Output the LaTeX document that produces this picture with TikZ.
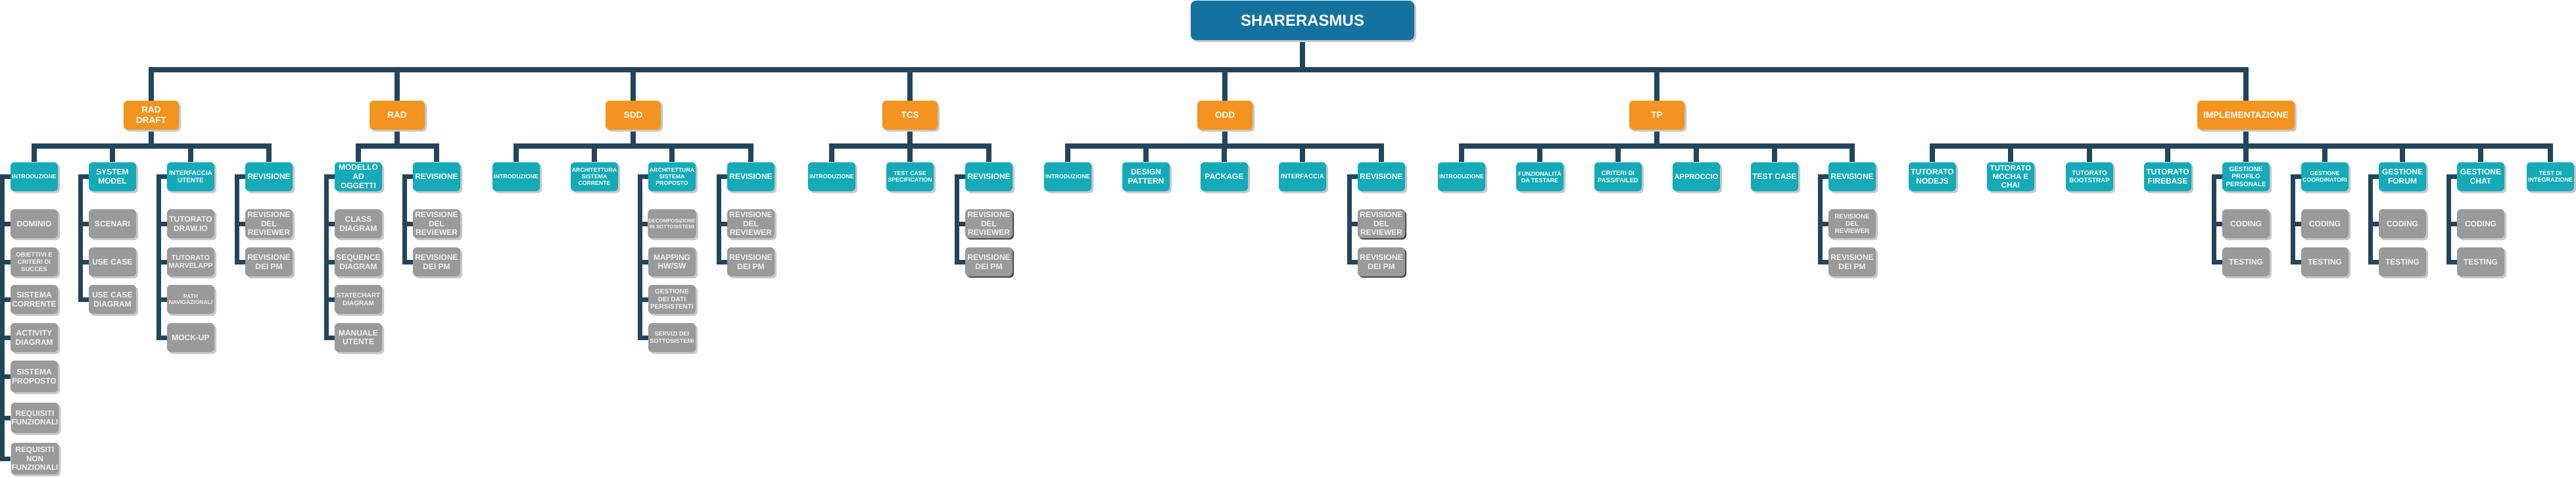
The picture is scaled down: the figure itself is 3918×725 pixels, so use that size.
\documentclass[tikz,border=0pt]{standalone}
\usepackage{fontspec}
\setmainfont{Liberation Sans}
\usetikzlibrary{shadows}
\definecolor{croot}{HTML}{13739E}
\definecolor{corange}{HTML}{F2941F}
\definecolor{cteal}{HTML}{14AAB7}
\definecolor{cgray}{HTML}{9A9A9A}
\definecolor{gtext}{HTML}{F2F2F2}
\definecolor{cnavy}{HTML}{23455C}
\definecolor{shd}{HTML}{C8C8C8}
\newcommand\fsz[1]{\fontsize{#1pt}{\dimexpr#1pt*115/100\relax}\selectfont}
\newcommand\mybrk[2]{\draw[bconn] (#1.west) -- ++(-12,0) |- (#2.west);}
\pgfdeclarelayer{bg}
\pgfsetlayers{bg,main}
\tikzset{
  base/.style={rounded corners=6pt, minimum width=72pt, minimum height=44pt, inner sep=1pt,
    align=center, font=\fsz{12}\bfseries},
  lshadow/.style={drop shadow={shadow xshift=3pt, shadow yshift=-3pt, fill=shd, opacity=1}},
  dshadow/.style={drop shadow={shadow xshift=2pt, shadow yshift=-2pt, fill=black!72, opacity=1}},
  rootbox/.style={base, lshadow, fill=croot, text=white, minimum width=340pt, minimum height=60pt,
    rounded corners=8pt, font=\fsz{24}\bfseries},
  obox/.style={base, lshadow, fill=corange, text=white, minimum width=84pt, font=\fsz{13.5}\bfseries},
  tbox/.style={base, lshadow, fill=cteal, text=white},
  gbox/.style={base, lshadow, fill=cgray, text=gtext},
  dgbox/.style={base, dshadow, fill=cgray, text=gtext},
  fs/.style={font=\fsz{#1}\bfseries},
  conn/.style={draw=cnavy, line width=8pt, line join=miter},
  bconn/.style={draw=cnavy, line width=7pt, line join=miter},
}
\begin{document}
\begin{tikzpicture}[x=1pt,y=-1pt]
\useasboundingbox (0,0) rectangle (3918,725);
\coordinate (bar0) at (0,106);
\coordinate (bar1) at (0,222);
% root
\node[rootbox] (root) at (1981,31) {SHARERASMUS};
% level 1
\node[obox] (o1) at (230,175) {RAD\\DRAFT};
\node[obox] (o2) at (604,175) {RAD};
\node[obox] (o3) at (963,175) {SDD};
\node[obox] (o4) at (1384,175) {TCS};
\node[obox] (o5) at (1863,175) {ODD};
\node[obox] (o6) at (2520,175) {TP};
\node[obox, minimum width=148pt] (o7) at (3416,175) {IMPLEMENTAZIONE};
% level 2 : RAD DRAFT
\node[tbox, fs=8.9] (a1) at (52,268.5) {INTRODUZIONE};
\node[tbox] (a2) at (171,268.5) {SYSTEM\\MODEL};
\node[tbox, fs=9.8] (a3) at (290,268.5) {INTERFACCIA\\UTENTE};
\node[tbox] (a4) at (409,268.5) {REVISIONE};
% RAD
\node[tbox] (b1) at (545,268.5) {MODELLO\\AD\\OGGETTI};
\node[tbox] (b2) at (664,268.5) {REVISIONE};
% SDD
\node[tbox, fs=8.9] (c1) at (785,268.5) {INTRODUZIONE};
\node[tbox, fs=8.7] (c2) at (904,268.5) {ARCHITETTURA\\SISTEMA\\CORRENTE};
\node[tbox, fs=8.7] (c3) at (1022,268.5) {ARCHITETTURA\\SISTEMA\\PROPOSTO};
\node[tbox] (c4) at (1142,268.5) {REVISIONE};
% TCS
\node[tbox, fs=8.9] (d1) at (1265,268.5) {INTRODUZIONE};
\node[tbox, fs=8.8] (d2) at (1384,268.5) {TEST CASE\\SPECIFICATION};
\node[tbox] (d3) at (1504,268.5) {REVISIONE};
% ODD
\node[tbox, fs=8.9] (e1) at (1624,268.5) {INTRODUZIONE};
\node[tbox] (e2) at (1743,268.5) {DESIGN\\PATTERN};
\node[tbox] (e3) at (1862,268.5) {PACKAGE};
\node[tbox, fs=9.8] (e4) at (1981,268.5) {INTERFACCIA};
\node[tbox] (e5) at (2101,268.5) {REVISIONE};
% TP
\node[tbox, fs=8.9] (f1) at (2223,268.5) {INTRODUZIONE};
\node[tbox, fs=8.9] (f2) at (2342,268.5) {FUNZIONALITÀ\\DA TESTARE};
\node[tbox, fs=9.5] (f3) at (2461,268.5) {CRITERI DI\\PASS/FAILED};
\node[tbox, fs=11] (f4) at (2580,268.5) {APPROCCIO};
\node[tbox] (f5) at (2699,268.5) {TEST CASE};
\node[tbox] (f6) at (2817,268.5) {REVISIONE};
% IMPLEMENTAZIONE
\node[tbox] (h1) at (2939,268.5) {TUTORATO\\NODEJS};
\node[tbox, fs=11.5] (h2) at (3058,268.5) {TUTORATO\\MOCHA E\\CHAI};
\node[tbox, fs=9.8] (h3) at (3178,268.5) {TUTORATO\\BOOTSTRAP};
\node[tbox] (h4) at (3297,268.5) {TUTORATO\\FIREBASE};
\node[tbox, fs=9.8] (h5) at (3416,268.5) {GESTIONE\\PROFILO\\PERSONALE};
\node[tbox, fs=8.7] (h6) at (3536,268.5) {GESTIONE\\COORDINATORI};
\node[tbox] (h7) at (3654,268.5) {GESTIONE\\FORUM};
\node[tbox] (h8) at (3773,268.5) {GESTIONE\\CHAT};
\node[tbox, fs=9] (h9) at (3879,268.5) {TEST DI\\INTEGRAZIONE};
% level 3
\node[gbox] (a1g1) at (52,340) {DOMINIO};
\node[gbox, fs=9.5] (a1g2) at (52,398) {OBIETTIVI E\\CRITERI DI\\SUCCES};
\node[gbox] (a1g3) at (52,455) {SISTEMA\\CORRENTE};
\node[gbox] (a1g4) at (52,513) {ACTIVITY\\DIAGRAM};
\node[gbox, minimum height=48pt] (a1g5) at (52,572) {SISTEMA\\PROPOSTO};
\node[gbox, fs=11.7, minimum height=46pt] (a1g6) at (53,635) {REQUISITI\\FUNZIONALI};
\node[gbox, fs=11.7, minimum height=48pt] (a1g7) at (53,697) {REQUISITI\\NON\\FUNZIONALI};
\node[gbox] (a2g1) at (171,340) {SCENARI};
\node[gbox] (a2g2) at (171,398) {USE CASE};
\node[gbox] (a2g3) at (171,455) {USE CASE\\DIAGRAM};
\node[gbox] (a3g1) at (290,340) {TUTORATO\\DRAW.IO};
\node[gbox, fs=10.7] (a3g2) at (290,398) {TUTORATO\\MARVELAPP};
\node[gbox, fs=8.5] (a3g3) at (290,455) {PATH\\NAVIGAZIONALI};
\node[gbox] (a3g4) at (290,513) {MOCK-UP};
\node[gbox] (a4g1) at (409,340) {REVISIONE\\DEL\\REVIEWER};
\node[gbox] (a4g2) at (409,398) {REVISIONE\\DEI PM};
\node[gbox] (b1g1) at (545,340) {CLASS\\DIAGRAM};
\node[gbox] (b1g2) at (545,398) {SEQUENCE\\DIAGRAM};
\node[gbox, fs=10] (b1g3) at (545,455) {STATECHART\\DIAGRAM};
\node[gbox] (b1g4) at (545,513) {MANUALE\\UTENTE};
\node[gbox] (b2g1) at (664,340) {REVISIONE\\DEL\\REVIEWER};
\node[gbox] (b2g2) at (664,398) {REVISIONE\\DEI PM};
\node[gbox, fs=7.8] (c3g1) at (1022,340) {DECOMPOSIZIONE\\IN SOTTOSISTEMI};
\node[gbox] (c3g2) at (1022,398) {MAPPING\\HW/SW};
\node[gbox, fs=10] (c3g3) at (1022,455) {GESTIONE\\DEI DATI\\PERSISTENTI};
\node[gbox, fs=9] (c3g4) at (1022,513) {SERVIZI DEI\\SOTTOSISTEMI};
\node[gbox] (c4g1) at (1142,340) {REVISIONE\\DEL\\REVIEWER};
\node[gbox] (c4g2) at (1142,398) {REVISIONE\\DEI PM};
\node[dgbox] (d3g1) at (1504,340) {REVISIONE\\DEL\\REVIEWER};
\node[dgbox] (d3g2) at (1504,398) {REVISIONE\\DEI PM};
\node[dgbox] (e5g1) at (2101,340) {REVISIONE\\DEL\\REVIEWER};
\node[dgbox] (e5g2) at (2101,398) {REVISIONE\\DEI PM};
\node[gbox, fs=9.8] (f6g1) at (2817,340) {REVISIONE\\DEL\\REVIEWER};
\node[gbox] (f6g2) at (2817,398) {REVISIONE\\DEI PM};
\node[gbox] (h5g1) at (3416,340) {CODING};
\node[gbox] (h5g2) at (3416,398) {TESTING};
\node[gbox] (h6g1) at (3536,340) {CODING};
\node[gbox] (h6g2) at (3536,398) {TESTING};
\node[gbox] (h7g1) at (3654,340) {CODING};
\node[gbox] (h7g2) at (3654,398) {TESTING};
\node[gbox] (h8g1) at (3773,340) {CODING};
\node[gbox] (h8g2) at (3773,398) {TESTING};
% connectors
\begin{pgfonlayer}{bg}
\foreach \o in {o1,o2,o3,o4,o5,o6,o7}
  {\draw[conn] (root.south) -- (root.south |- bar0) -| (\o.north);}
\foreach \c in {a1,a2,a3,a4}
  {\draw[conn] (o1.south) -- (o1.south |- bar1) -| (\c.north);}
\foreach \c in {b1,b2}
  {\draw[conn] (o2.south) -- (o2.south |- bar1) -| (\c.north);}
\foreach \c in {c1,c2,c3,c4}
  {\draw[conn] (o3.south) -- (o3.south |- bar1) -| (\c.north);}
\foreach \c in {d1,d2,d3}
  {\draw[conn] (o4.south) -- (o4.south |- bar1) -| (\c.north);}
\foreach \c in {e1,e2,e3,e4,e5}
  {\draw[conn] (o5.south) -- (o5.south |- bar1) -| (\c.north);}
\foreach \c in {f1,f2,f3,f4,f5,f6}
  {\draw[conn] (o6.south) -- (o6.south |- bar1) -| (\c.north);}
\foreach \c in {h1,h2,h3,h4,h5,h6,h7,h8,h9}
  {\draw[conn] (o7.south) -- (o7.south |- bar1) -| (\c.north);}
\foreach \g in {a1g1,a1g2,a1g3,a1g4,a1g5,a1g6,a1g7} {\mybrk{a1}{\g}}
\foreach \g in {a2g1,a2g2,a2g3} {\mybrk{a2}{\g}}
\foreach \g in {a3g1,a3g2,a3g3,a3g4} {\mybrk{a3}{\g}}
\foreach \g in {a4g1,a4g2} {\mybrk{a4}{\g}}
\foreach \g in {b1g1,b1g2,b1g3,b1g4} {\mybrk{b1}{\g}}
\foreach \g in {b2g1,b2g2} {\mybrk{b2}{\g}}
\foreach \g in {c3g1,c3g2,c3g3,c3g4} {\mybrk{c3}{\g}}
\foreach \g in {c4g1,c4g2} {\mybrk{c4}{\g}}
\foreach \g in {d3g1,d3g2} {\mybrk{d3}{\g}}
\foreach \g in {e5g1,e5g2} {\mybrk{e5}{\g}}
\foreach \g in {f6g1,f6g2} {\mybrk{f6}{\g}}
\foreach \g in {h5g1,h5g2} {\mybrk{h5}{\g}}
\foreach \g in {h6g1,h6g2} {\mybrk{h6}{\g}}
\foreach \g in {h7g1,h7g2} {\mybrk{h7}{\g}}
\foreach \g in {h8g1,h8g2} {\mybrk{h8}{\g}}
\end{pgfonlayer}
\end{tikzpicture}
\end{document}
